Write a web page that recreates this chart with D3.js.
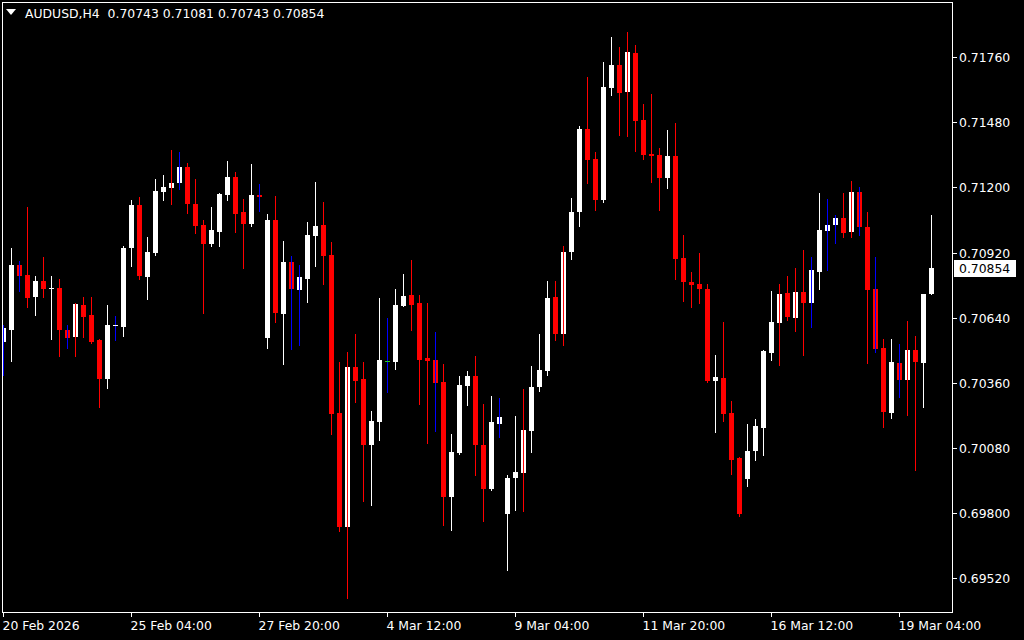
<!DOCTYPE html>
<html><head><meta charset="utf-8">
<script src="https://cdn.jsdelivr.net/npm/d3@7"></script>
<style>html,body{margin:0;padding:0;background:#000;overflow:hidden}svg{display:block}</style>
</head><body><svg id="c" width="1024" height="640"></svg>
<script>
const symbol = "AUDUSD,H4";
const opens = [
0.70537,0.70588,0.70866,0.70823,0.70730,0.70797,0.70766,0.70767,0.70587,0.70558,
0.70694,0.70651,0.70544,0.70377,0.70607,0.70601,0.70940,0.71124,0.70816,0.70919,
0.71181,0.71198,0.71220,0.71287,0.71128,0.71038,0.70958,0.71010,0.71169,0.71245,
0.71094,0.71044,0.71167,0.70554,0.71060,0.70657,0.70879,0.70760,0.70807,0.70992,
0.71038,0.70909,0.70230,0.69741,0.70428,0.70376,0.70094,0.70193,0.70453,0.70449,
0.70690,0.70738,0.70703,0.70467,0.70458,0.70364,0.69871,0.70060,0.70348,0.70389,
0.70094,0.69905,0.70183,0.69797,0.69952,0.69973,0.70154,0.70343,0.70412,0.70729,
0.70571,0.70924,0.71096,0.71451,0.71322,0.71147,0.71628,0.71726,0.71611,0.71778,
0.71490,0.71344,0.71339,0.71242,0.71335,0.70897,0.70795,0.70785,0.70763,0.70369,
0.70381,0.70230,0.70038,0.69948,0.70068,0.70167,0.70490,0.70618,0.70746,0.70640,
0.70750,0.70704,0.70838,0.71014,0.71040,0.71068,0.71010,0.71180,0.71030,0.70763,
0.70510,0.70232,0.70445,0.70374,0.70501,0.70447,0.70743];
const highs = [
0.70608,0.70940,0.70883,0.71115,0.70820,0.70900,0.70819,0.70806,0.70608,0.70703,
0.70729,0.70729,0.70548,0.70694,0.70647,0.70948,0.71145,0.71158,0.70986,0.71236,
0.71253,0.71360,0.71352,0.71304,0.71236,0.71060,0.71115,0.71176,0.71313,0.71266,
0.71150,0.71301,0.71215,0.71086,0.71163,0.70970,0.70905,0.70866,0.71051,0.71223,
0.71137,0.70965,0.70449,0.70492,0.70569,0.70449,0.70239,0.70725,0.70639,0.70763,
0.70828,0.70888,0.70738,0.70703,0.70578,0.70441,0.70140,0.70389,0.70411,0.70475,
0.70270,0.70303,0.70294,0.69965,0.70219,0.70335,0.70432,0.70569,0.70797,0.70797,
0.70948,0.71154,0.71464,0.71675,0.71352,0.71739,0.71846,0.71803,0.71868,0.71812,
0.71558,0.71601,0.71369,0.71447,0.71477,0.70995,0.70836,0.70918,0.70785,0.70480,
0.70621,0.70282,0.70042,0.70184,0.70206,0.70502,0.70755,0.70785,0.70819,0.70854,
0.70931,0.70900,0.71176,0.71150,0.71081,0.71176,0.71227,0.71201,0.71094,0.70900,
0.70548,0.70548,0.70527,0.70626,0.70561,0.70742,0.71081];
const lows = [
0.70393,0.70455,0.70756,0.70687,0.70652,0.70730,0.70548,0.70476,0.70511,0.70476,
0.70558,0.70532,0.70257,0.70339,0.70544,0.70562,0.70862,0.70807,0.70721,0.70909,
0.71145,0.71129,0.71193,0.71091,0.71005,0.70660,0.70949,0.70949,0.71145,0.71010,
0.70855,0.71035,0.71100,0.70511,0.70623,0.70442,0.70507,0.70524,0.70709,0.70863,
0.70786,0.70141,0.69724,0.69436,0.70279,0.69853,0.69836,0.70116,0.70322,0.70421,
0.70690,0.70588,0.70270,0.70103,0.70153,0.69750,0.69729,0.70055,0.70266,0.69965,
0.69767,0.69900,0.70128,0.69557,0.69815,0.69810,0.70064,0.70326,0.70395,0.70545,
0.70524,0.70894,0.71035,0.71220,0.71104,0.71139,0.71598,0.71427,0.71422,0.71358,
0.71323,0.71225,0.71104,0.71198,0.70807,0.70713,0.70687,0.70704,0.70365,0.70150,
0.70197,0.69969,0.69789,0.69918,0.70030,0.70051,0.70459,0.70438,0.70631,0.70584,
0.70481,0.70601,0.70764,0.70846,0.70961,0.70988,0.70988,0.70997,0.70447,0.70494,
0.70172,0.70210,0.70300,0.70223,0.69987,0.70257,0.70743];
const closes = [
0.70597,0.70866,0.70820,0.70726,0.70797,0.70764,0.70766,0.70588,0.70554,0.70698,
0.70644,0.70537,0.70377,0.70608,0.70607,0.70940,0.71124,0.70820,0.70922,0.71184,
0.71201,0.71218,0.71287,0.71129,0.71035,0.70958,0.71017,0.71172,0.71245,0.71087,
0.71044,0.71167,0.71158,0.71060,0.70661,0.70879,0.70764,0.70815,0.70995,0.71034,
0.70906,0.70227,0.69741,0.70428,0.70369,0.70094,0.70196,0.70458,0.70453,0.70694,
0.70733,0.70694,0.70458,0.70454,0.70361,0.69871,0.70063,0.70351,0.70389,0.70094,
0.69905,0.70191,0.70213,0.69952,0.69978,0.70159,0.70343,0.70417,0.70726,0.70571,
0.70922,0.71094,0.71451,0.71319,0.71147,0.71632,0.71726,0.71607,0.71782,0.71487,
0.71341,0.71336,0.71242,0.71335,0.70894,0.70795,0.70782,0.70764,0.70369,0.70385,
0.70227,0.70030,0.69797,0.70068,0.70176,0.70498,0.70623,0.70742,0.70644,0.70750,
0.70704,0.70845,0.71017,0.71038,0.71068,0.71005,0.71180,0.71031,0.70760,0.70507,
0.70236,0.70449,0.70374,0.70501,0.70451,0.70743,0.70854];
// wick tone per bar: w = white, r = red, b = blue
const wickTone = ("bwbrwrwrbr" + "rrrwbwwrww" + "wrbrrrwwwr" + "rwbwrwbbww" +
  "rrrrrrwwbw" + "wrrrbrwwwr" + "rwbwwrwwwr" + "rwwrrwwrrr" + "rrrwrrrrrw" +
  "rrrwwwwrrr" + "rbwbbrrbrb" + "rwbrrww").split("");
const greenFlatBars = [48];
const priceTicks = [0.71760, 0.71480, 0.71200, 0.70920, 0.70640, 0.70360, 0.70080, 0.69800, 0.69520];
const timeTickIndex = [0, 16, 32, 48, 64, 80, 96, 112];
const timeTickLabels = ["20 Feb 2026", "25 Feb 04:00", "27 Feb 20:00", "4 Mar 12:00",
  "9 Mar 04:00", "11 Mar 20:00", "16 Mar 12:00", "19 Mar 04:00"];

const FONT = "'DejaVu Sans', Tahoma, sans-serif";
const FS = 12.4;
const toneColor = {w: "#ffffff", r: "#ff0000", b: "#0000ff"};
const svg = d3.select("#c");
svg.append("rect").attr("width", 1024).attr("height", 640).attr("fill", "#000");

const n = opens.length;
const x = d3.scaleLinear().domain([0, n - 1]).range([3, 931]);
const y = d3.scaleLinear().domain([0.69520, 0.71760]).range([578.4, 57.1]);

const bars = d3.range(n).map(i => ({i, o: opens[i], h: highs[i], l: lows[i], c: closes[i], t: wickTone[i]}));

svg.append("defs").append("clipPath").attr("id", "clip")
  .append("rect").attr("x", 3).attr("y", 3).attr("width", 949).attr("height", 609);

const g = svg.append("g").attr("clip-path", "url(#clip)").attr("shape-rendering", "crispEdges");

// bodies
g.selectAll("rect.body").data(bars).join("rect").attr("class", "body")
  .attr("x", d => Math.round(x(d.i)) - 2)
  .attr("width", 5)
  .attr("y", d => Math.round(y(Math.max(d.o, d.c))))
  .attr("height", d => Math.max(1, Math.round(y(Math.min(d.o, d.c))) - Math.round(y(Math.max(d.o, d.c)))))
  .attr("fill", d => d.c > d.o ? "#ffffff" : d.c < d.o ? "#ff0000" : (greenFlatBars.includes(d.i) ? "#22cc22" : "#ffffff"));

// wicks
g.selectAll("rect.wick").data(bars).join("rect").attr("class", "wick")
  .attr("x", d => Math.round(x(d.i)))
  .attr("width", 1)
  .attr("y", d => Math.round(y(d.h)))
  .attr("height", d => Math.max(1, Math.round(y(d.l)) - Math.round(y(d.h)) + 1))
  .attr("fill", d => toneColor[d.t]);

// flat bars drawn as horizontal dash on top
g.selectAll("rect.flat").data(bars.filter(d => d.o === d.c)).join("rect").attr("class", "flat")
  .attr("x", d => Math.round(x(d.i)) - 2)
  .attr("width", 5)
  .attr("y", d => Math.round(y(d.o)))
  .attr("height", 1)
  .attr("fill", d => greenFlatBars.includes(d.i) ? "#22cc22" : "#ffffff");

// frame
svg.append("rect").attr("x", 2.5).attr("y", 2.5).attr("width", 950).attr("height", 610)
  .attr("fill", "none").attr("stroke", "#ffffff").attr("stroke-width", 1).attr("shape-rendering", "crispEdges");

// price axis
const pa = svg.append("g");
priceTicks.forEach(p => {
  const yy = Math.round(y(p)) + 0.5;
  pa.append("line").attr("x1", 953).attr("x2", 957).attr("y1", yy).attr("y2", yy)
    .attr("stroke", "#fff").attr("shape-rendering", "crispEdges");
  pa.append("text").attr("x", 959).attr("y", yy + 4.5).attr("fill", "#fff")
    .attr("font-family", FONT).attr("font-size", FS).text(p.toFixed(5));
});

// current price label
const last = closes[n - 1];
const ly = y(last);
pa.append("rect").attr("x", 954).attr("y", Math.round(ly) - 8).attr("width", 62).attr("height", 17)
  .attr("fill", "#fff").attr("shape-rendering", "crispEdges");
pa.append("text").attr("x", 959).attr("y", Math.round(ly) + 5).attr("fill", "#000")
  .attr("font-family", FONT).attr("font-size", FS).text(last.toFixed(5));

// time axis
const ta = svg.append("g");
timeTickIndex.forEach((idx, k) => {
  const xx = Math.round(x(idx)) + 0.5;
  ta.append("line").attr("x1", xx).attr("x2", xx).attr("y1", 613).attr("y2", 617)
    .attr("stroke", "#fff").attr("shape-rendering", "crispEdges");
  ta.append("text").attr("x", Math.round(x(idx)) - 0.5).attr("y", 630).attr("fill", "#fff")
    .attr("font-family", FONT).attr("font-size", FS).text(timeTickLabels[k]);
});

// header
svg.append("path").attr("d", "M6,9 L16,9 L11,15 Z").attr("fill", "#fff");
svg.append("text").attr("x", 25).attr("y", 18).attr("fill", "#fff")
  .attr("font-family", FONT).attr("font-size", FS)
  .text(symbol + "  " + [opens[n-1], highs[n-1], lows[n-1], closes[n-1]].map(v => v.toFixed(5)).join(" "))
  .attr("xml:space", "preserve").style("white-space", "pre");
</script>
</body></html>
